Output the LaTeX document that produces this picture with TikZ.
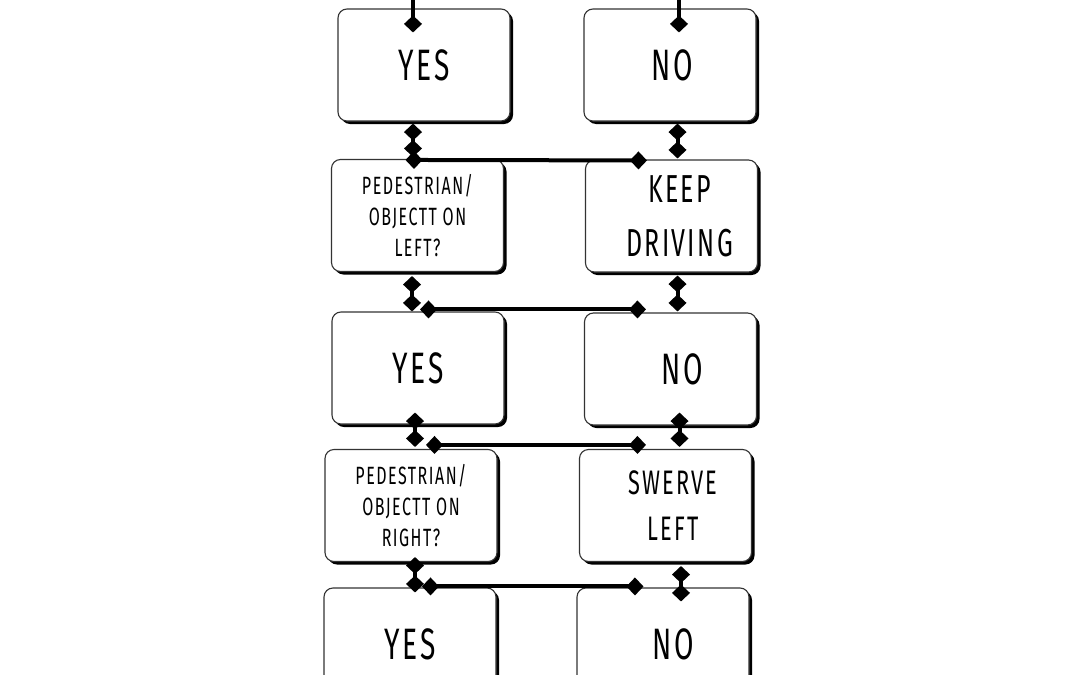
\documentclass[tikz,border=0pt]{standalone}
\usepackage{fontspec}
\setmainfont{Fira Sans}[FakeStretch=0.64,LetterSpace=6]
\usetikzlibrary{arrows.meta,calc,shadows}

\begin{document}
\begin{tikzpicture}[x=1pt, y=-1pt,
    panel/.style={draw=black!80, line width=1.1pt, fill=white, rounded corners=9pt,
                  minimum width=172pt, minimum height=112pt, inner sep=0pt, align=center,
                  drop shadow={shadow xshift=3pt, shadow yshift=-3pt, fill=black, opacity=1}},
    big/.style={font=\fontsize{44}{48}\selectfont},
    mid/.style={font=\fontsize{39}{54}\selectfont},
    midtwo/.style={font=\fontsize{34}{46}\selectfont},
    small/.style={font=\fontsize{25}{31}\selectfont},
    link/.style={line width=4pt, <->},
    >={Diamond[length=17pt,width=18pt]}
]
\useasboundingbox (0,0) rectangle (1080,675);
\clip (0,0) rectangle (1080,675);

\node[panel, big] (yes1) at (424,65) {YES};
\node[panel, big] (no1) at (670,65) {\hspace*{4pt}NO};
\node[panel, small] (ped1) at (417.5,215.5) {PEDESTRIAN/\\OBJECTT ON\\LEFT?};
\node[panel, mid] (drive) at (671.5,216) {\hspace*{16pt}KEEP\\\hspace*{16pt}DRIVING};
\node[panel, big] (yes2) at (418,368) {YES};
\node[panel, big] (no2) at (670.5,369) {\hspace*{23pt}NO};
\node[panel, small] (ped2) at (411,505.5) {PEDESTRIAN/\\OBJECTT ON\\RIGHT?};
\node[panel, midtwo] (swerve) at (665.5,505.5) {\hspace*{15pt}SWERVE\\\hspace*{15pt}LEFT};
\node[panel, big] (yes3) at (410,644) {YES};
\node[panel, big] (no3) at (663,644) {\hspace*{20pt}NO};

% incoming lines
\coordinate (inL) at (413,0);
\coordinate (inR) at (679,0);
\draw[line width=4pt, ->] (inL) -- ($(yes1.north)+(-11,24)$);
\draw[line width=4pt, ->] (inR) -- ($(no1.north)+(9,24)$);

% row 1 -> row 2
\draw[link] ($(yes1.south)+(-11,2)$) -- ($(ped1.north)+(-4.5,-2)$);
\draw[link] ($(no1.south)+(7.5,2)$) -- ($(drive.north)+(6,-1)$);
\draw[link] ($(ped1.north)+(-12,1)$) -- ($(drive.north west)+(62,1)$);

% row 2 -> row 3
\draw[link] ($(ped1.south)+(-5.5,4)$) -- ($(yes2.north)+(-6,0)$);
\draw[link] ($(drive.south)+(6,3)$) -- ($(no2.north)+(7,-1)$);
\draw[link] ($(yes2.north)+(2,-2)$) -- ($(no2.north west)+(62,-3)$);

% row 3 -> row 4
\draw[link] ($(yes2.south)+(-3,-12)$) -- ($(ped2.north)+(4,-2)$);
\draw[link] ($(no2.south)+(9,-13)$) -- ($(swerve.north)+(14,-2)$);
\draw[link] ($(ped2.north)+(15,-4)$) -- ($(swerve.north west)+(67,-4)$);

% row 4 -> row 5
\draw[link] ($(ped2.south)+(4,-5)$) -- ($(yes3.north)+(5,5)$);
\draw[link] ($(swerve.south)+(15.5,4)$) -- ($(no3.north)+(18,14)$);
\draw[link] ($(yes3.north)+(12,-1)$) -- ($(no3.north west)+(67,-1)$);
\end{tikzpicture}
\end{document}
